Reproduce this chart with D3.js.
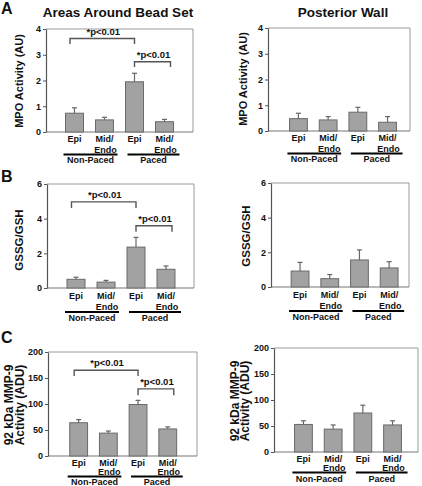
<!DOCTYPE html>
<html><head><meta charset="utf-8">
<script src="https://cdn.jsdelivr.net/npm/d3@7"></script>
<style>
body{margin:0;background:#fff;}
svg{display:block;}
text{font-family:"Liberation Sans",Arial,Helvetica,sans-serif;font-weight:bold;fill:#111;}
</style>
</head><body><svg id="c" width="422" height="486"></svg>
<script>
// ---- data ----
const categories = ["Epi", "Mid/Endo", "Epi", "Mid/Endo"];
const groups = ["Non-Paced", "Paced"];
const columnTitles = ["Areas Around Bead Set", "Posterior Wall"];
const panelLetters = ["A", "B", "C"];

const mpoBeadValues = [0.73, 0.47, 1.95, 0.40];
const mpoBeadErrors = [0.21, 0.10, 0.33, 0.09];
const mpoWallValues = [0.48, 0.43, 0.73, 0.34];
const mpoWallErrors = [0.21, 0.13, 0.19, 0.22];

const gssgBeadValues = [0.50, 0.34, 2.36, 1.08];
const gssgBeadErrors = [0.12, 0.10, 0.56, 0.19];
const gssgWallValues = [0.92, 0.48, 1.56, 1.10];
const gssgWallErrors = [0.50, 0.24, 0.58, 0.36];

const mmpBeadValues = [64, 44, 99, 52];
const mmpBeadErrors = [6, 4, 8, 4];
const mmpWallValues = [53, 44, 75, 52];
const mmpWallErrors = [7, 8, 15, 8];

const mpoTicks = [0, 1, 2, 3, 4];
const gssgTicks = [0, 2, 4, 6];
const mmpTicks = [0, 50, 100, 150, 200];

const mpoLabel = ["MPO Activity (AU)"];
const gssgLabel = ["GSSG/GSH"];
const mmpLabel = ["92 kDa MMP-9", "Activity (ADU)"];

const sigText = "*p<0.01";
const mpoBeadSig = [{from: 0, to: 2, level: 3.63, drop: 0.21}, {from: 2, to: 3, level: 2.73, drop: 0.21}];
const gssgBeadSig = [{from: 0, to: 2, level: 4.97, drop: 0.35}, {from: 2, to: 3, level: 3.59, drop: 0.35}];
const mmpBeadSig = [{from: 0, to: 2, level: 165, drop: 11}, {from: 2, to: 3, level: 129, drop: 12}];

// ---- layout (pixels) ----
const panels = [
  {values: mpoBeadValues, errors: mpoBeadErrors, ticks: mpoTicks, sig: mpoBeadSig, label: mpoLabel, lsize: 11,
   x0: 46, x1: 193, yTop: 29, yBot: 132, band: [59.5, 179.5], lx: [22.5], ly: 81, rows: [10, 21, 22.5, 31]},
  {values: mpoWallValues, errors: mpoWallErrors, ticks: mpoTicks, sig: [], label: mpoLabel, lsize: 11,
   x0: 268, x1: 410, yTop: 28, yBot: 131, band: [283.6, 402.4], lx: [247], ly: 79, rows: [10, 21, 22.5, 31]},
  {values: gssgBeadValues, errors: gssgBeadErrors, ticks: gssgTicks, sig: gssgBeadSig, label: gssgLabel, lsize: 11.5,
   x0: 47, x1: 194, yTop: 184, yBot: 288, band: [61, 181], lx: [23], ly: 240, rows: [11, 22, 24, 33]},
  {values: gssgWallValues, errors: gssgWallErrors, ticks: gssgTicks, sig: [], label: gssgLabel, lsize: 11.5,
   x0: 271, x1: 409, yTop: 183, yBot: 287, band: [285.2, 404], lx: [250], ly: 236, rows: [11, 22, 24, 33]},
  {values: mmpBeadValues, errors: mmpBeadErrors, ticks: mmpTicks, sig: mmpBeadSig, label: mmpLabel, lsize: 12,
   x0: 48, x1: 197, yTop: 352, yBot: 456, band: [63.8, 182.6], lx: [12.7, 23.5], ly: 405, rows: [10, 19, 20.5, 28.5]},
  {values: mmpWallValues, errors: mmpWallErrors, ticks: mmpTicks, sig: [], label: mmpLabel, lsize: 12,
   x0: 274, x1: 418, yTop: 348, yBot: 452, band: [288.6, 407.4], lx: [238.5, 249.3], ly: 401, rows: [10, 19, 20.5, 29.5]}
];

const svg = d3.select("#c");

// titles and letters
svg.append("text").attr("x", 118).attr("y", 17).attr("text-anchor", "middle")
  .attr("font-size", 13.5).text(columnTitles[0]);
svg.append("text").attr("x", 343).attr("y", 17).attr("text-anchor", "middle")
  .attr("font-size", 13.5).text(columnTitles[1]);
[14, 182, 343].forEach((yy, i) => {
  svg.append("text").attr("x", 1).attr("y", yy).attr("font-size", 16).text(panelLetters[i]);
});

panels.forEach(p => {
  const g = svg.append("g");
  const y = d3.scaleLinear().domain([0, d3.max(p.ticks)]).range([p.yBot, p.yTop]);
  const x = d3.scaleBand().domain(d3.range(categories.length)).range(p.band)
    .paddingInner(0.4).paddingOuter(0.2);
  const cx = i => x(i) + x.bandwidth() / 2;

  // frame (top / right)
  g.append("path")
    .attr("d", `M${p.x0},${p.yTop}H${p.x1}V${p.yBot}`)
    .attr("fill", "none").attr("stroke", "#9a9a9a").attr("stroke-width", 1);
  // bottom line
  g.append("line").attr("x1", p.x0).attr("x2", p.x1).attr("y1", p.yBot).attr("y2", p.yBot)
    .attr("stroke", "#777").attr("stroke-width", 1.2);

  // y axis
  const ax = g.append("g").attr("transform", `translate(${p.x0},0)`)
    .call(d3.axisLeft(y).tickValues(p.ticks).tickFormat(d3.format("d"))
      .tickSizeInner(3).tickSizeOuter(0).tickPadding(2));
  ax.select(".domain").attr("stroke", "#555").attr("stroke-width", 1.2);
  ax.selectAll(".tick line").attr("stroke", "#555");
  ax.selectAll(".tick text").attr("font-size", 9).attr("font-family", "Liberation Sans, Arial, sans-serif")
    .attr("font-weight", "bold").attr("fill", "#111");

  // y label
  p.label.forEach((t, k) => {
    g.append("text")
      .attr("transform", `translate(${p.lx[k]},${p.ly}) rotate(-90)`)
      .attr("text-anchor", "middle").attr("font-size", p.lsize).text(t);
  });

  // bars
  g.selectAll("rect.bar").data(p.values).join("rect").attr("class", "bar")
    .attr("x", (d, i) => x(i)).attr("width", x.bandwidth())
    .attr("y", d => y(d)).attr("height", d => p.yBot - y(d))
    .attr("fill", "#a2a2a2").attr("stroke", "#6a6a6a").attr("stroke-width", 1);

  // error bars (upper only)
  p.values.forEach((v, i) => {
    const top = y(v + p.errors[i]);
    g.append("line").attr("x1", cx(i)).attr("x2", cx(i)).attr("y1", y(v)).attr("y2", top)
      .attr("stroke", "#666").attr("stroke-width", 1.2);
    g.append("line").attr("x1", cx(i) - 2.5).attr("x2", cx(i) + 2.5).attr("y1", top).attr("y2", top)
      .attr("stroke", "#666").attr("stroke-width", 1.2);
  });

  // significance brackets
  p.sig.forEach(s => {
    const xa = s.from === 0 ? cx(s.from) - 4.5 : cx(s.from);
    const xb = s.to === 3 ? cx(s.to) + 6 : cx(s.to);
    const yl = y(s.level), yd = y(s.level - s.drop);
    g.append("path").attr("d", `M${xa},${yd}V${yl}H${xb}V${yd}`)
      .attr("fill", "none").attr("stroke", "#555").attr("stroke-width", 1.4);
    g.append("text").attr("x", (xa + xb) / 2 + 1).attr("y", yl - 4).attr("text-anchor", "middle")
      .attr("font-size", 9.5).attr("font-weight", "normal").attr("fill", "#111").text(sigText);
  });

  // category labels
  categories.forEach((c, i) => {
    const parts = c.includes("/") ? [c.split("/")[0] + "/", c.split("/")[1]] : [c];
    parts.forEach((t, k) => {
      g.append("text").attr("x", cx(i) + (k === 1 ? 1 : 0)).attr("y", p.yBot + p.rows[k])
        .attr("text-anchor", "middle").attr("font-size", 9).text(t);
    });
  });

  // group underline + labels
  groups.forEach((gr, j) => {
    const a = cx(j * 2), b = cx(j * 2 + 1);
    const l = j === 0 ? a - 11 : a - 7;
    const r = j === 0 ? b + 13 : b + 15;
    g.append("line").attr("x1", l).attr("x2", r).attr("y1", p.yBot + p.rows[2]).attr("y2", p.yBot + p.rows[2])
      .attr("stroke", "#000").attr("stroke-width", 2);
    g.append("text").attr("x", (l + r) / 2).attr("y", p.yBot + p.rows[3])
      .attr("text-anchor", "middle").attr("font-size", 9).text(gr);
  });
});
</script>
</body></html>
